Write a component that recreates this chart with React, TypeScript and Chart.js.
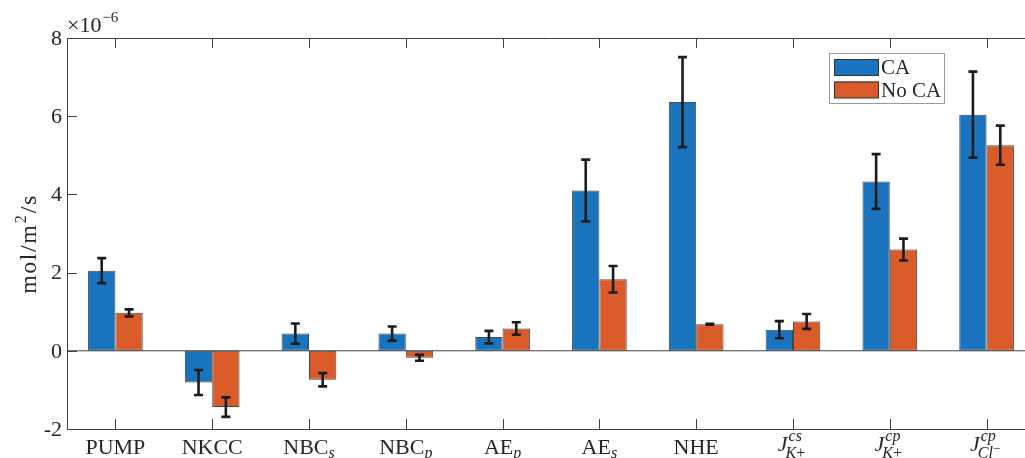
import React, { useEffect, useRef } from "react";
import { Chart, registerables } from "chart.js";

Chart.register(...registerables);

// ---- data (units of 1e-6 mol/m^2/s) ----
const categories = ["PUMP", "NKCC", "NBC_s", "NBC_p", "AE_p", "AE_s", "NHE", "J^cs_K+", "J^cp_K+", "J^cp_Cl-"];
const labelBase = ["PUMP", "NKCC", "NBC", "NBC", "AE", "AE", "NHE", "J", "J", "J"];
const labelSup = ["", "", "", "", "", "", "", "cs", "cp", "cp"];
const labelSub = ["", "", "s", "p", "p", "s", "", "K+", "K+", "Cl−"];

const caValues = [2.05, -0.81, 0.44, 0.44, 0.35, 4.1, 6.36, 0.54, 4.33, 6.04];
const caErrors = [0.32, 0.32, 0.26, 0.18, 0.16, 0.79, 1.15, 0.22, 0.7, 1.1];
const noCaValues = [0.97, -1.44, -0.74, -0.18, 0.57, 1.83, 0.68, 0.75, 2.59, 5.26];
const noCaErrors = [0.09, 0.25, 0.17, 0.075, 0.16, 0.34, 0.01, 0.19, 0.28, 0.5];

const seriesNames = ["CA", "No CA"];
const yTicks = [-2, 0, 2, 4, 6, 8];
const yMin = -2;
const yMax = 8;
const yExponent = "−6";
const yLabelParts = ["mol/m", "2", "/s"];

const BLUE = "#1A74BD";
const ORANGE = "#DA5B2A";
const AXIS = "#404040";
const TEXT = "#262626";
const FONT = "'Liberation Serif', 'DejaVu Serif', serif";

function font(size: number, italic = false) {
  return `${italic ? "italic " : ""}${size}px ${FONT}`;
}

function drawSubChars(ctx: CanvasRenderingContext2D, s: string, x: number, baseline: number, size: number, draw: boolean) {
  let w = 0;
  for (const ch of s) {
    const isLetter = /[A-Za-z]/.test(ch);
    let sz = size;
    let dy = 0;
    if (ch === "−") {
      sz = size - 3;
      dy = -5;
    }
    ctx.font = font(sz, isLetter);
    if (draw) ctx.fillText(ch, x + w, baseline + dy);
    w += ctx.measureText(ch).width;
  }
  return w;
}

function drawTickLabel(ctx: CanvasRenderingContext2D, cx: number, base: string, sup: string, sub: string) {
  const baseSize = 22;
  const smallSize = 16;
  const isMath = base.length === 1;
  ctx.textAlign = "left";
  ctx.textBaseline = "alphabetic";
  ctx.fillStyle = TEXT;
  ctx.font = font(baseSize, isMath);
  const wBase = ctx.measureText(base).width;
  const wSup = sup ? drawSubChars(ctx, sup, 0, 0, smallSize, false) : 0;
  const wSub = sub ? drawSubChars(ctx, sub, 0, 0, smallSize, false) : 0;
  const total = wBase + Math.max(wSup, wSub) + (isMath ? 1 : 0);
  const x0 = cx - total / 2;
  const baseline = isMath ? 451 : 454;
  ctx.font = font(baseSize, isMath);
  ctx.fillText(base, x0, baseline);
  const xs = x0 + wBase + (isMath ? 1 : 0);
  if (sup) drawSubChars(ctx, sup, xs, baseline - 10, smallSize, true);
  if (sub) drawSubChars(ctx, sub, xs - (isMath ? 3 : 0), baseline + (isMath ? 7 : 4), smallSize, true);
}

const matlabPlugin = {
  id: "matlabAxes",
  afterDatasetsDraw(chart: any) {
    const ctx: CanvasRenderingContext2D = chart.ctx;
    const { left, right, top, bottom } = chart.chartArea;
    const xs = chart.scales.x;
    const ys = chart.scales.y;
    ctx.save();

    // baseline at zero
    const y0 = ys.getPixelForValue(0);
    ctx.strokeStyle = AXIS;
    ctx.lineWidth = 1;
    ctx.beginPath();
    ctx.moveTo(left, y0);
    ctx.lineTo(right, y0);
    ctx.stroke();

    // error bars
    const vals = [caValues, noCaValues];
    const errs = [caErrors, noCaErrors];
    ctx.strokeStyle = "#1c1c1c";
    ctx.lineWidth = 2.6;
    ctx.lineCap = "butt";
    chart.data.datasets.forEach((_ds: any, di: number) => {
      const meta = chart.getDatasetMeta(di);
      meta.data.forEach((bar: any, i: number) => {
        const cx = bar.x;
        const yt = ys.getPixelForValue(vals[di][i] + errs[di][i]);
        const yb = ys.getPixelForValue(vals[di][i] - errs[di][i]);
        ctx.beginPath();
        ctx.moveTo(cx, yt);
        ctx.lineTo(cx, yb);
        ctx.moveTo(cx - 4.5, yt);
        ctx.lineTo(cx + 4.5, yt);
        ctx.moveTo(cx - 4.5, yb);
        ctx.lineTo(cx + 4.5, yb);
        ctx.stroke();
      });
    });

    // axes box (right edge falls outside the visible window)
    ctx.strokeStyle = AXIS;
    ctx.lineWidth = 1;
    ctx.beginPath();
    ctx.moveTo(right, top + 0.5);
    ctx.lineTo(left + 0.5, top + 0.5);
    ctx.lineTo(left + 0.5, bottom + 0.5);
    ctx.lineTo(right, bottom + 0.5);
    ctx.stroke();

    // x ticks (inside, bottom & top)
    ctx.beginPath();
    for (let i = 0; i < categories.length; i++) {
      const px = Math.round(xs.getPixelForValue(i)) + 0.5;
      ctx.moveTo(px, bottom);
      ctx.lineTo(px, bottom - 10);
      ctx.moveTo(px, top);
      ctx.lineTo(px, top + 10);
    }
    // y ticks (inside, left)
    for (const t of yTicks) {
      const py = Math.round(ys.getPixelForValue(t)) + 0.5;
      ctx.moveTo(left, py);
      ctx.lineTo(left + 10, py);
    }
    ctx.stroke();

    // y tick labels
    ctx.fillStyle = TEXT;
    ctx.font = font(22);
    ctx.textAlign = "right";
    ctx.textBaseline = "middle";
    for (const t of yTicks) {
      ctx.fillText(String(t), left - 5, ys.getPixelForValue(t) + 1);
    }

    // exponent
    ctx.textAlign = "left";
    ctx.textBaseline = "alphabetic";
    ctx.font = font(22);
    const expBase = "×10";
    ctx.fillText(expBase, left, 32);
    const wExp = ctx.measureText(expBase).width;
    ctx.font = font(15);
    ctx.fillText(yExponent, left + wExp + 1, 22);

    // x tick labels
    for (let i = 0; i < categories.length; i++) {
      drawTickLabel(ctx, xs.getPixelForValue(i), labelBase[i], labelSup[i], labelSub[i]);
    }

    // y axis label (rotated)
    ctx.save();
    ctx.translate(36, 244);
    ctx.rotate(-Math.PI / 2);
    (ctx as any).letterSpacing = "1.5px";
    ctx.font = font(24);
    const w1 = ctx.measureText(yLabelParts[0]).width;
    const w3 = ctx.measureText(yLabelParts[2]).width;
    ctx.font = font(16);
    const w2 = ctx.measureText(yLabelParts[1]).width;
    const tot = w1 + w2 + w3 + 1;
    let xx = -tot / 2;
    ctx.textAlign = "left";
    ctx.font = font(24);
    ctx.fillText(yLabelParts[0], xx, 0);
    xx += w1;
    ctx.font = font(16);
    ctx.fillText(yLabelParts[1], xx + 0.5, -10);
    xx += w2 + 1;
    ctx.font = font(24);
    ctx.fillText(yLabelParts[2], xx, 0);
    (ctx as any).letterSpacing = "0px";
    ctx.restore();

    // legend
    const lx = 829.5, ly = 53.5, lw = 115, lh = 50;
    ctx.fillStyle = "#ffffff";
    ctx.fillRect(lx, ly, lw, lh);
    ctx.strokeStyle = "#9a9a9a";
    ctx.lineWidth = 1;
    ctx.strokeRect(lx, ly, lw, lh);
    const colors = [BLUE, ORANGE];
    for (let k = 0; k < seriesNames.length; k++) {
      const sy = 59 + k * 22.5;
      ctx.fillStyle = colors[k];
      ctx.fillRect(834, sy, 45, 16.5);
      ctx.strokeStyle = "#333";
      ctx.strokeRect(834.5, sy + 0.5, 44, 16);
      ctx.fillStyle = TEXT;
      ctx.font = font(21);
      ctx.textAlign = "left";
      ctx.textBaseline = "alphabetic";
      ctx.fillText(seriesNames[k], 881, sy + 15);
    }

    ctx.restore();
  },
};

export default function App() {
  const ref = useRef<HTMLCanvasElement | null>(null);
  useEffect(() => {
    if (!ref.current) return;
    const chart = new Chart(ref.current, {
      type: "bar",
      data: {
        labels: categories,
        datasets: [
          {
            label: seriesNames[0],
            data: caValues,
            backgroundColor: BLUE,
            borderColor: "rgba(40,40,40,0.85)",
            borderWidth: 1,
            borderSkipped: false,
            categoryPercentage: 0.565,
            barPercentage: 1,
          },
          {
            label: seriesNames[1],
            data: noCaValues,
            backgroundColor: ORANGE,
            borderColor: "rgba(40,40,40,0.85)",
            borderWidth: 1,
            borderSkipped: false,
            categoryPercentage: 0.565,
            barPercentage: 1,
          },
        ],
      },
      options: {
        responsive: false,
        animation: false,
        devicePixelRatio: 1,
        layout: { padding: { left: 67, top: 38, right: 5, bottom: 29 } },
        scales: {
          x: { display: false },
          y: { display: false, min: yMin, max: yMax },
        },
        plugins: { legend: { display: false }, tooltip: { enabled: false } },
      },
      plugins: [matlabPlugin],
    });
    return () => chart.destroy();
  }, []);
  return (
    <div style={{ position: "fixed", left: 0, top: 0, width: 1025, height: 458, overflow: "hidden", background: "#fff" }}>
      <canvas ref={ref} width={1040} height={458} style={{ display: "block", width: 1040, height: 458 }} />
    </div>
  );
}
